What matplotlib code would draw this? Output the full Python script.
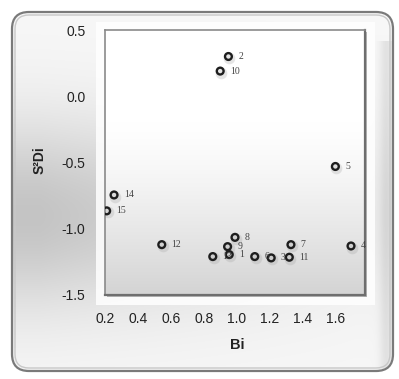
import numpy as np
import matplotlib
matplotlib.use("Agg")
import matplotlib.pyplot as plt
from matplotlib.patches import FancyBboxPatch, Rectangle

# Genotype stability data: regression coefficient (Bi) vs deviation from regression (S²Di)
genotypes = ["2", "10", "5", "14", "15", "12", "8", "9", "13", "1", "6", "3", "11", "7", "4"]
bi_values = [0.95, 0.90, 1.60, 0.255, 0.21, 0.545, 0.99, 0.945, 0.855, 0.955, 1.11, 1.21, 1.32, 1.33, 1.695]
s2di_values = [0.30, 0.19, -0.53, -0.745, -0.865, -1.12, -1.065, -1.135, -1.21, -1.195, -1.21, -1.22, -1.215, -1.12, -1.13]

x_ticks = [0.2, 0.4, 0.6, 0.8, 1.0, 1.2, 1.4, 1.6]
y_ticks = [0.5, 0.0, -0.5, -1.0, -1.5]

W, H = 399, 379
fig = plt.figure(figsize=(W / 100, H / 100), dpi=100)
fig.patch.set_facecolor("white")

# Background layer in pixel coordinates
bg = fig.add_axes([0, 0, 1, 1])
bg.set_xlim(0, W)
bg.set_ylim(H, 0)
bg.axis("off")

yy, xx = np.mgrid[0:H, 0:W]
fy = np.exp(-((yy - 215) / 95.0) ** 2)
gx = np.clip(1.0 - (xx - 40) / 420.0, 0.25, 1.0)
shade = 1.0 - 0.20 * fy * gx - 0.03
# shading along the right edge of the panel
shade -= 0.08 * np.exp(-((xx - 386) / 7.0) ** 2) * (yy > 40)
shade = np.clip(shade, 0, 1)
img = np.dstack([shade, shade, shade])

panel = FancyBboxPatch((13, 13), 379, 357, boxstyle="round,pad=0,rounding_size=16",
                       facecolor="none", edgecolor="none")
bg.add_patch(panel)
im = bg.imshow(img, extent=(0, W, H, 0), zorder=0, interpolation="bilinear")
im.set_clip_path(panel)

# double-line frame
bg.add_patch(FancyBboxPatch((12, 12), 381, 359, boxstyle="round,pad=0,rounding_size=17",
                            facecolor="none", edgecolor="#7a7a7a", linewidth=1.6, zorder=2))
bg.add_patch(FancyBboxPatch((15, 15), 375, 353, boxstyle="round,pad=0,rounding_size=14",
                            facecolor="none", edgecolor="#c8c8c8", linewidth=1.0, zorder=2))

# white glow around the plot area
bg.add_patch(Rectangle((96, 22), 279, 283, facecolor="white", edgecolor="none",
                       alpha=0.85, zorder=1))
# thin shadow on right/bottom of plot area
bg.add_patch(Rectangle((107, 32), 260, 265, facecolor="#b4b4b4", edgecolor="none", zorder=1))

# Plot area
left, top, right, bottom = 105, 30, 365, 295
ax = fig.add_axes([left / W, 1 - bottom / H, (right - left) / W, (bottom - top) / H])
xlim = (0.2, 1.78)
ylim = (-1.5, 0.5)

# vertical gradient inside the plot area
g = np.linspace(0, 1, 200)
col = 1.0 - 0.17 * np.clip((g - 0.35) / 0.65, 0, 1) ** 1.3
grad2d = np.repeat(col[:, None], 2, axis=1)
grad = np.dstack([grad2d, grad2d, grad2d])
ax.imshow(grad, extent=(xlim[0], xlim[1], ylim[0], ylim[1]), aspect="auto", zorder=0,
          interpolation="bilinear", origin="upper")
ax.set_xlim(*xlim)
ax.set_ylim(*ylim)

for side in ["left", "top"]:
    ax.spines[side].set_color("#8a8a8a")
    ax.spines[side].set_linewidth(1.2)
for side in ["right", "bottom"]:
    ax.spines[side].set_color("#6e6e6e")
    ax.spines[side].set_linewidth(1.6)

ax.set_xticks(x_ticks)
ax.set_yticks(y_ticks)
ax.set_xticklabels([f"{v:.1f}" for v in x_ticks])
ax.set_yticklabels([f"{v:.1f}" for v in y_ticks])
ax.tick_params(length=0, labelsize=10, colors="#222222", pad=12)
ax.tick_params(axis="y", pad=14)
for lab in ax.get_xticklabels() + ax.get_yticklabels():
    lab.set_fontfamily("Liberation Sans")

# soft shadow beneath markers
ax.scatter(np.array(bi_values) + 0.006, np.array(s2di_values) - 0.012, s=70,
           color="#9a9a9a", alpha=0.25, linewidths=0, zorder=2)
ax.scatter(bi_values, s2di_values, s=24, facecolors="none", edgecolors="#1e1e1e",
           linewidths=1.7, zorder=3)

for name, xv, yv in zip(genotypes, bi_values, s2di_values):
    ax.annotate(name, (xv, yv), xytext=(7, 0), textcoords="offset points",
                fontsize=7, family="Liberation Serif", color="#444444",
                va="center", ha="left", zorder=4)

fig.text(237 / W, 1 - 345 / H, "Bi", fontsize=10.5, fontweight="bold",
         family="Liberation Sans", ha="center", va="center", color="#222222")
fig.text(40 / W, 1 - 160 / H, "S²Di", fontsize=10, fontweight="bold",
         family="Liberation Sans", ha="center", va="center", rotation=90, color="#222222")

fig.savefig("out.png", dpi=100)
